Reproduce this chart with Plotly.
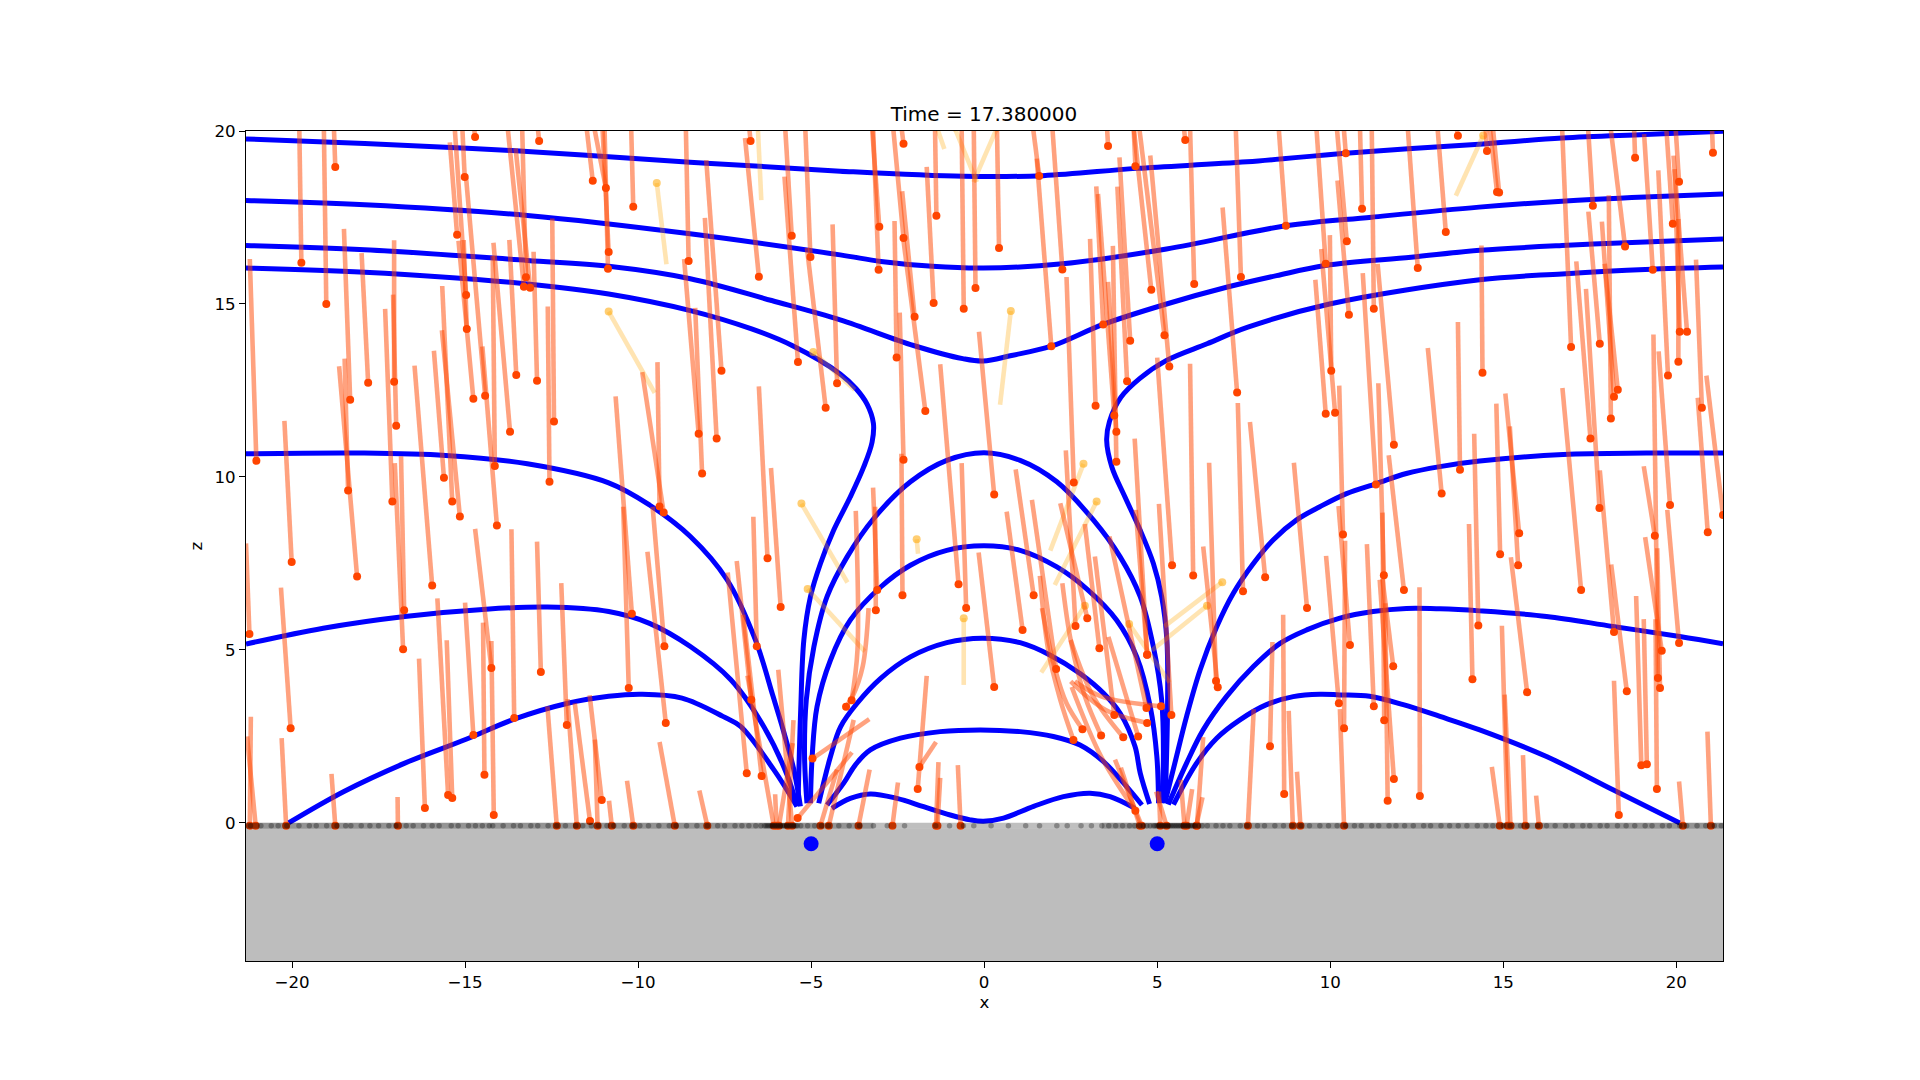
import plotly.graph_objects as go

# ---- particle trails: head = current position, tail = oldest position ----
ul_head_x = [-19.73,-19.01,-18.75,-21.03,-18.32,-17.80,-17.05,-16.99,-18.38,-18.12,-20.01,-17.10,-16.79,-16.76,-15.37,-15.61,-15.15,-15.95,-15.01,-15.23,-14.97,-14.95,-14.76,-14.42,-14.08,-14.71,-14.14,-13.70,-13.52,-12.92,-13.24,-13.30,-13.12,-12.86,-12.43,-12.56,-11.31,-10.93,-10.85,-10.87,-10.14,-8.54,-8.25,-8.15,-7.73,-7.59,-6.75,-6.51,-5.56,-5.02,-5.38,-4.58,-4.25,-9.26,-9.38,-10.18,-6.26,-5.88,-21.23]
ul_head_z = [16.19,15.0,18.96,10.47,12.23,12.72,12.75,11.48,9.61,7.12,7.54,9.29,5.02,6.15,9.29,9.98,8.86,6.86,18.67,17.0,15.26,14.28,12.26,12.35,8.60,19.83,10.32,11.31,12.95,12.78,15.77,15.50,15.47,19.71,11.60,9.86,18.56,18.35,16.50,16.02,17.81,16.24,11.25,10.10,11.11,13.07,19.71,15.79,16.97,16.36,13.32,12.0,12.71,8.97,9.15,6.05,7.65,6.24,5.46]
ul_tail_x = [-19.79,-19.08,-18.79,-21.22,-18.50,-17.99,-17.05,-17.08,-18.48,-18.64,-20.22,-17.31,-17.03,-16.85,-15.66,-15.90,-15.67,-16.46,-15.08,-15.44,-15.30,-15.04,-15.19,-14.97,-14.50,-14.76,-14.20,-14.18,-13.72,-13.02,-13.35,-13.77,-13.54,-12.90,-12.48,-12.61,-11.49,-11.27,-11.03,-10.97,-10.20,-8.62,-8.67,-8.35,-8.07,-8.03,-6.79,-6.91,-5.75,-5.17,-5.77,-5.12,-4.38,-9.88,-9.44,-10.65,-6.51,-6.16,-21.33]
ul_tail_z = [20.11,20.11,20.11,16.3,17.17,16.47,16.84,15.27,13.42,13.20,11.62,14.86,10.40,10.60,15.52,13.65,14.24,13.22,20.11,19.67,20.11,16.85,16.83,18.64,13.77,20.3,16.39,16.77,16.85,16.51,20.11,20.11,19.5,20.11,17.47,14.93,20.11,20.11,20.11,20.11,20.11,20.11,16.30,14.89,17.49,19.16,20.11,19.80,20.11,20.11,18.68,16.62,17.30,13.03,13.32,12.33,12.62,10.26,8.08]

ll_head_x = [-14.24,-14.44,-14.17,-13.58,-12.81,-12.06,-14.76,-15.49,-15.37,-16.16,-20.04,-20.17,-21.22,-21.05,-18.75,-16.94,-12.35,-11.77,-11.39,-11.05,-11.17,-10.76,-10.14,-8.94,-8.0,-10.27,-9.20,-9.24,-6.73,-6.57,-6.86,-6.43,-6.08,-5.67,-5.93,-6.0,-5.55,-5.39,-4.96,-4.73,-4.49,-3.63,-2.65,-1.39,-1.35,-0.68,-1.92,-1.87,0.29]
ll_head_z = [4.48,1.39,0.23,3.03,4.36,2.83,2.54,0.81,0.72,0.43,2.74,-0.08,-0.08,-0.08,-0.08,-0.08,-0.08,-0.08,0.06,0.66,-0.08,-0.08,-0.08,-0.08,-0.08,3.90,2.89,5.11,3.56,5.11,1.44,1.36,-0.08,-0.08,-0.08,-0.08,-0.08,0.14,1.86,-0.08,-0.08,-0.08,-0.08,-0.08,-0.08,-0.08,0.98,1.62,3.93]
ll_tail_x = [-14.71,-14.48,-14.24,-13.66,-12.92,-12.22,-15.0,-15.80,-15.53,-16.33,-20.32,-20.30,-21.19,-21.30,-18.86,-16.95,-12.62,-12.04,-11.83,-11.40,-11.25,-10.84,-10.32,-9.38,-8.23,-10.43,-9.73,-9.58,-7.15,-6.67,-7.41,-6.96,-6.84,-5.51,-5.53,-6.04,-5.95,-3.82,-3.32,-4.25,-3.77,-3.31,-2.49,-1.32,-1.27,-0.76,-1.66,-1.39,-0.16]
ll_tail_z = [8.50,5.79,5.26,8.49,8.13,6.93,6.37,6.49,5.28,4.75,6.80,2.45,3.07,2.50,1.42,0.75,3.37,3.58,3.46,3.69,2.41,0.64,1.22,2.34,0.94,9.14,7.84,9.14,7.57,8.85,7.24,6.02,4.26,2.97,2.31,0.83,4.43,2.04,3.0,1.54,2.98,1.54,1.17,1.76,1.30,1.67,4.25,2.34,7.82]

uc_head_x = [-3.03,-2.33,-2.33,-3.05,-1.38,-1.46,-2.01,-2.53,-1.70,-2.33,-0.59,-0.25,0.43,0.29,-0.74,-0.52,-2.36,-3.09,-3.13,1.43,1.11,2.59,2.64,3.22,4.22,4.13,3.44,3.76,3.82,3.82,1.94,1.59,2.26,3.58,4.37,4.83,5.21,5.35,5.81,6.07,7.42,7.31,8.72,9.87,10.45,10.48,10.54,10.03,9.87,10.14,10.92,11.26,11.84,11.32,12.53,13.34,13.69,13.75,13.22,14.40]
uc_head_z = [17.23,19.63,16.91,15.99,17.55,15.03,14.63,13.45,11.91,10.50,14.86,15.46,16.62,9.49,6.90,6.21,6.58,6.73,6.15,6.58,5.58,9.84,5.69,12.06,13.94,12.77,14.41,11.78,11.31,10.44,13.78,18.70,16.0,19.57,18.98,15.41,14.10,13.19,19.74,15.58,15.78,12.44,17.26,16.16,19.36,16.81,14.69,13.07,11.83,11.86,17.75,14.86,10.93,9.78,16.04,17.08,19.86,10.21,9.52,13.01]
uc_tail_x = [-3.24,-2.39,-2.63,-3.21,-1.42,-1.66,-2.37,-2.59,-2.33,-2.44,-0.65,-0.30,0.37,-0.15,-1.27,-0.65,-2.39,-3.21,-3.15,0.91,0.65,2.38,2.36,3.06,3.91,3.85,3.24,3.29,3.58,3.72,1.52,1.41,1.97,3.55,4.32,4.32,4.48,4.80,5.77,5.95,7.27,6.89,8.51,9.60,10.39,10.19,10.21,9.99,9.57,9.74,10.86,11.20,11.37,10.94,12.24,13.10,13.65,13.69,12.82,14.37]
uc_tail_z = [20.11,20.11,20.11,20.11,20.11,18.96,18.26,17.40,16.83,14.75,20.11,20.11,20.11,14.20,13.26,10.40,10.67,9.69,9.14,10.22,9.0,15.78,10.77,16.88,19.24,18.39,18.40,18.18,15.64,16.68,19.20,20.11,20.11,20.11,20.11,20.11,20.11,19.29,20.11,20.11,20.11,17.79,20.11,20.11,20.11,20.11,18.57,16.99,15.70,16.59,20.11,20.11,16.16,15.89,20.11,20.11,20.11,14.48,13.73,16.69]

lc_head_x = [5.43,6.04,4.71,7.48,8.12,6.70,6.75,9.33,10.37,11.55,12.13,14.28,10.40,10.57,10.25,8.67,8.26,11.26,11.56,11.82,11.84,11.66,12.59,14.11,7.62,8.92,9.14,10.40,6.15,6.13,5.85,5.79,5.27,5.09,4.55,4.50,5.41,4.69,4.45,2.08,2.98,3.33,3.76,4.71]
lc_head_z = [7.45,7.15,4.86,6.70,7.10,4.10,3.92,6.21,8.34,7.16,6.73,5.71,2.74,5.14,3.46,0.84,2.22,3.37,2.97,4.53,1.27,0.64,0.78,4.15,-0.08,-0.08,-0.08,-0.08,-0.08,-0.08,-0.08,-0.08,-0.08,-0.08,-0.08,-0.08,3.12,3.32,2.50,4.45,5.92,5.05,3.12,4.86]
lc_tail_x = [5.0,5.95,4.35,7.33,7.68,6.50,6.33,8.95,10.26,11.39,11.69,14.16,10.43,10.24,9.88,8.64,8.33,11.06,11.51,11.51,11.43,11.59,12.58,14.01,7.79,8.80,9.04,10.28,6.33,6.31,6.01,5.68,4.97,5.05,3.78,3.95,5.05,3.62,3.59,1.38,2.20,2.91,3.20,4.38]
lc_tail_z = [13.45,13.27,11.11,12.14,11.59,10.41,7.99,10.41,12.64,12.71,10.63,11.25,8.16,9.16,7.72,6.02,5.23,8.06,8.97,7.05,7.03,6.35,6.81,8.64,3.29,3.24,1.48,3.29,2.48,0.74,0.98,1.25,0.91,0.91,1.83,1.6,9.22,8.28,5.38,9.34,9.24,8.64,7.70,9.05]

r_head_x = [14.53,14.82,14.88,16.96,17.59,18.52,18.81,19.32,21.06,20.08,19.90,20.10,20.31,20.06,19.76,17.79,18.31,18.20,18.11,17.52,20.74,17.78,17.25,15.46,15.43,14.91,18.20,19.38,19.47,19.82,20.91,21.35,15.69,18.57,20.08,19.58,19.53,18.99,19.15,19.44,18.34,14.90,15.13,15.21,15.64,16.03,20.19,21.0]
r_head_z = [19.42,18.24,18.22,13.76,17.84,16.66,19.23,15.99,19.37,18.53,17.32,14.20,14.20,13.33,12.93,13.85,12.52,12.32,11.69,11.11,12.0,9.10,6.73,8.37,7.45,7.77,5.52,8.30,4.19,9.19,8.40,8.90,3.78,3.81,5.20,4.98,3.90,1.67,1.70,0.98,0.23,-0.08,-0.08,-0.08,-0.08,-0.08,-0.08,-0.08]
r_tail_x = [14.49,14.61,14.70,16.70,17.45,18.10,18.78,19.07,21.03,19.98,19.71,19.95,19.92,20.06,19.48,17.46,17.93,17.85,18.05,17.11,20.57,17.39,16.71,15.06,15.19,14.80,17.79,19.06,19.34,19.49,20.62,20.87,15.22,18.12,19.74,19.10,19.45,18.84,19.06,19.40,18.20,14.67,14.96,15.04,15.57,15.95,20.08,20.90]
r_tail_z = [20.11,20.11,20.11,20.11,20.11,20.11,20.11,19.91,20.11,20.11,20.11,18.90,19.29,17.46,18.86,17.67,16.16,17.38,18.14,16.23,16.28,15.44,12.57,12.41,11.46,12.12,10.19,10.31,14.12,13.63,12.29,12.93,7.68,7.47,9.05,8.26,7.94,6.56,5.89,5.89,4.11,1.62,5.70,3.71,1.96,0.79,1.20,2.64]

# curved trails (oldest point first, current position last)
curved_x = [[1.61,1.85,2.20,2.58],[1.67,2.03,2.38,2.84],[2.26,2.50,2.91,3.38],[2.50,3.15,4.02],[2.53,3.38,4.37],[2.62,3.38,5.11],[2.50,3.50,4.71],[-3.71,-3.66,-3.83],[-3.34,-3.51,-3.80,-3.99]]
curved_z = [[7.14,5.0,3.56,2.40],[6.21,4.52,3.46,2.71],[6.93,5.29,3.66,2.53],[5.29,3.66,2.48],[3.93,1.92,0.35],[4.09,3.66,3.37],[4.09,3.27,2.89],[9.02,5.0,3.55],[6.21,4.52,3.66,3.36]]

# pale (slow) particles
pale_head_x = [-9.46,-10.85,-6.54,-4.94,-0.59,-1.95,3.25,2.87,2.91,4.19,6.88,6.44,-5.28,-5.10,0.77,-1.4,-0.86,0.38,14.42]
pale_head_z = [18.50,14.78,20.11,13.61,5.92,8.20,9.29,10.38,6.28,5.75,6.96,6.28,9.23,6.76,14.80,20.2,20.11,20.11,19.87]
pale_tail_x = [-9.18,-9.52,-6.44,-3.74,-0.59,-1.91,2.04,1.91,1.65,5.36,5.21,4.85,-3.95,-3.45,0.46,-1.15,-0.21,-0.31,13.63]
pale_tail_z = [16.15,12.43,18.0,12.52,3.99,7.78,6.88,7.87,4.35,4.06,5.68,4.99,6.95,4.96,12.09,19.48,18.52,18.52,18.13]

# ---- magnetic field lines ----
t1_x = [-21.33,-17.9,-13.2,-8.5,-4.16,-0.6,1.7,4.4,7.6,10.45,14.3,16.7,19.1,21.35]
t1_z = [19.77,19.64,19.41,19.1,18.84,18.69,18.71,18.92,19.11,19.36,19.62,19.80,19.9,19.99]
t2_x = [-21.33,-17.9,-13.2,-8.5,-4.16,-2.98,-1.5,-0.03,2.26,5.27,8.72,11.2,14.3,16.7,19.1,21.35]
t2_z = [17.99,17.87,17.56,17.03,16.42,16.23,16.09,16.04,16.16,16.59,17.26,17.51,17.80,17.97,18.09,18.18]
t3_x = [-21.33,-17.9,-13.2,-10.85,-8.49,-6.14,-4.16,-2.04,-0.62,-0.03,0.79,1.94,3.44,5.27,7.03,8.45,9.86,12.34,14.32,16.7,19.1,21.35]
t3_z = [16.69,16.57,16.26,16.09,15.73,15.10,14.54,13.8,13.42,13.35,13.51,13.78,14.41,15.0,15.49,15.82,16.11,16.35,16.55,16.69,16.79,16.88]
t4l_x = [-21.33,-17.9,-13.2,-10.85,-8.49,-6.72,-5.55,-4.16,-3.7,-3.38,-3.2,-3.24,-3.48,-3.87,-4.35,-4.73,-5.02,-5.21,-5.3,-5.38]
t4l_z = [16.04,15.92,15.58,15.29,14.81,14.28,13.8,12.98,12.55,12.1,11.55,11.0,10.29,9.42,8.46,7.5,6.54,5.29,3.3,0.5]
t4r_x = [21.35,19.1,16.7,14.32,9.98,7.62,6.44,5.27,4.5,3.95,3.62,3.54,3.69,4.07,4.51,4.89,5.13,5.28,5.3,5.23]
t4r_z = [16.07,16.0,15.87,15.7,15.0,14.33,13.85,13.37,12.85,12.3,11.6,11.06,10.29,9.42,8.46,7.5,6.54,5.29,3.36,0.57]

l1l_x = [-21.33,-17.92,-15.56,-13.2,-10.85,-9.67,-8.49,-7.43,-6.61,-6.1,-5.84,-5.5,-5.31]
l1l_z = [10.67,10.69,10.62,10.38,9.83,9.19,8.28,7.03,5.29,3.66,2.8,1.54,0.48]
l1r_x = [21.35,19.13,16.73,14.32,13.17,12.2,11.34,10.47,9.70,9.03,8.35,7.78,7.2,6.72,6.24,5.85,5.51,5.22]
l1r_z = [10.69,10.69,10.65,10.46,10.30,10.10,9.81,9.52,9.14,8.76,8.18,7.5,6.64,5.67,4.42,3.08,1.73,0.57]
l2l_x = [-21.33,-19.1,-16.74,-14.39,-12.62,-10.85,-9.67,-8.49,-7.32,-6.37,-5.68,-5.41]
l2l_z = [5.17,5.63,5.97,6.18,6.24,6.11,5.77,5.10,4.14,2.79,1.35,0.48]
l2r_x = [21.35,20.1,18.17,16.25,14.32,13.17,12.2,11.24,10.28,9.32,8.55,7.78,7.0,6.33,5.85,5.32]
l2r_z = [5.18,5.39,5.68,5.97,6.13,6.19,6.2,6.11,5.92,5.58,5.19,4.52,3.65,2.69,1.73,0.53]
l3l_x = [-20.1,-18.5,-16.74,-14.97,-13.58,-12.03,-10.85,-9.91,-8.73,-7.55,-7.04,-6.08,-5.41]
l3l_z = [0.0,0.91,1.73,2.42,3.0,3.46,3.66,3.72,3.61,3.08,2.79,1.54,0.48]
l3r_x = [20.1,18.17,16.25,14.32,13.17,12.11,11.14,10.28,9.70,8.93,8.16,7.39,6.72,6.14,5.47]
l3r_z = [0.0,0.96,1.92,2.69,3.08,3.42,3.66,3.70,3.72,3.65,3.42,2.98,2.45,1.73,0.53]

a1_x = [-5.12,-5.19,-5.14,-4.92,-4.54,-3.96,-3.19,-2.13,-1.08,0,1.04,2.10,3.16,3.93,4.51,4.89,5.13,5.18,5.13]
a1_z = [0.57,1.92,3.55,5.09,6.54,7.69,8.80,9.86,10.48,10.70,10.48,9.86,8.75,7.69,6.54,5.09,3.55,1.92,0.57]
a2_x = [-5.02,-4.97,-4.83,-4.44,-3.87,-2.99,-2.13,-1.08,0,1.04,2.10,2.97,3.83,4.41,4.80,4.99,5.04]
a2_z = [0.57,1.92,3.36,4.71,5.86,6.82,7.45,7.88,8.01,7.88,7.40,6.76,5.86,4.80,3.36,1.92,0.57]
a3_x = [-4.78,-4.44,-4.15,-3.67,-2.99,-2.13,-1.08,-0.06,1.04,1.91,2.77,3.45,3.93,4.36,4.51,4.78]
a3_z = [0.57,1.92,2.78,3.46,4.18,4.80,5.21,5.34,5.21,4.85,4.32,3.75,3.17,2.21,1.44,0.55]
a4_x = [-4.54,-4.06,-3.72,-3.29,-2.42,-1.27,-0.11,1.04,2.0,2.77,3.45,4.03,4.56]
a4_z = [0.52,1.15,1.68,2.11,2.45,2.64,2.69,2.64,2.5,2.25,1.77,1.15,0.52]
a5_x = [-4.40,-3.87,-3.29,-2.52,-1.75,-0.98,-0.4,-0.02,0.56,1.43,2.29,3.06,3.64,4.36]
a5_z = [0.42,0.71,0.84,0.71,0.47,0.23,0.09,0.05,0.14,0.48,0.76,0.86,0.76,0.42]

# ---- particles sitting on the wall (z = 0 row) and the two sources ----
wall_x = [-21.2,-20.9,-20.6,-20.4,-20.15,-19.8,-19.5,-19.3,-19.0,-18.7,-18.45,-18.3,-18.0,-17.75,-17.5,-17.2,-17.0,-16.7,-16.5,-16.2,-15.95,-15.75,-15.4,-15.2,-14.9,-14.7,-14.5,-14.3,-14.2,-13.9,-13.6,-13.4,-13.1,-12.9,-12.6,-12.35,-12.1,-11.8,-11.6,-11.35,-11.15,-10.9,-10.7,-10.4,-10.15,-9.95,-9.7,-9.4,-9.1,-8.9,-8.6,-8.3,-8.0,-7.7,-7.5,-7.2,-7.0,-6.8,-6.6,-6.45,-6.35,-6.3,-6.25,-6.2,-6.15,-6.1,-6.05,-6.0,-5.95,-5.9,-5.85,-5.8,-5.75,-5.7,-5.65,-5.6,-5.55,-5.5,-5.45,-5.4,-5.3,-5.1,-4.9,-4.7,-4.5,-4.2,-3.9,-3.6,-3.2,-2.8,-2.3,-1.4,-1.0,-0.6,-0.3,0.2,0.7,1.2,1.6,2.1,2.4,2.8,3.1,3.4,3.6,3.8,4.0,4.2,4.35,4.5,4.6,4.7,4.8,4.9,4.95,5.0,5.05,5.1,5.15,5.2,5.25,5.3,5.35,5.4,5.45,5.5,5.55,5.6,5.65,5.7,5.75,5.8,5.85,5.9,5.95,6.0,6.05,6.1,6.2,6.3,6.45,6.7,6.9,7.1,7.4,7.6,7.9,8.1,8.4,8.65,8.9,9.15,9.4,9.7,9.95,10.2,10.45,10.7,10.9,11.2,11.4,11.7,11.9,12.15,12.4,12.7,12.9,13.2,13.45,13.7,13.95,14.25,14.5,14.7,15.0,15.2,15.5,15.7,16.0,16.25,16.5,16.8,17.0,17.3,17.5,17.8,18.0,18.3,18.55,18.8,19.1,19.3,19.6,19.8,20.1,20.3,20.6,20.85,21.1,21.3]
band_outer_x = [-21.33,-3.2,None,3.4,21.35]
band_outer_z = [-0.08,-0.08,None,-0.08,-0.08]
band_center_x = [-3.2,3.4]
band_center_z = [-0.08,-0.08]
source_x = [-5.0,5.0]
source_z = [-0.6,-0.6]
ground_x = [-21.33,21.35,21.35,-21.33]
ground_z = [-0.17,-0.17,-4.0,-4.0]

x_ticks = [-20,-15,-10,-5,0,5,10,15,20]
z_ticks = [0,5,10,15,20]
title_text = "Time = 17.380000"

FONT = "DejaVu Sans"
TRAIL = "rgba(255,69,0,0.5)"
PALE = "rgba(255,165,0,0.3)"
BLUE = "#0000ff"
fig = go.Figure()

# ground
fig.add_trace(go.Scatter(x=ground_x, y=ground_z, mode="lines", fill="toself",
                         fillcolor="#bdbdbd", line=dict(width=0), hoverinfo="skip"))
# field lines
for lx, lz in [(t1_x,t1_z),(t2_x,t2_z),(t3_x,t3_z),(t4l_x,t4l_z),(t4r_x,t4r_z),(l1l_x,l1l_z),(l1r_x,l1r_z),
               (l2l_x,l2l_z),(l2r_x,l2r_z),(l3l_x,l3l_z),(l3r_x,l3r_z),(a1_x,a1_z),(a2_x,a2_z),(a3_x,a3_z),(a4_x,a4_z),(a5_x,a5_z)]:
    fig.add_trace(go.Scatter(x=lx, y=lz, mode="lines", hoverinfo="skip",
                             line=dict(color=BLUE, width=5, shape="spline", smoothing=1.0)))

# pale trails
for hx, hz, tx, tz in zip(pale_head_x, pale_head_z, pale_tail_x, pale_tail_z, strict=True):
    fig.add_trace(go.Scatter(x=[tx,hx], y=[tz,hz], mode="lines", hoverinfo="skip", line=dict(color=PALE, width=4.6)))
fig.add_trace(go.Scatter(x=pale_head_x, y=pale_head_z, mode="markers", hoverinfo="skip",
                         marker=dict(color="rgba(255,165,0,0.55)", size=8, line=dict(width=0))))

# straight trails
groups = [(ul_head_x,ul_head_z,ul_tail_x,ul_tail_z),(ll_head_x,ll_head_z,ll_tail_x,ll_tail_z),
          (uc_head_x,uc_head_z,uc_tail_x,uc_tail_z),(lc_head_x,lc_head_z,lc_tail_x,lc_tail_z),
          (r_head_x,r_head_z,r_tail_x,r_tail_z)]
heads_x, heads_z = [], []
for g in groups:
    for hx, hz, tx, tz in zip(*g, strict=True):
        fig.add_trace(go.Scatter(x=[tx,hx], y=[tz,hz], mode="lines", hoverinfo="skip", line=dict(color=TRAIL, width=4.6)))
        heads_x.append(hx); heads_z.append(hz)
for cx, cz in zip(curved_x, curved_z, strict=True):
    fig.add_trace(go.Scatter(x=cx, y=cz, mode="lines", hoverinfo="skip", line=dict(color=TRAIL, width=4.6, shape="spline")))
    heads_x.append(cx[-1]); heads_z.append(cz[-1])
fig.add_trace(go.Scatter(x=heads_x, y=heads_z, mode="markers", hoverinfo="skip",
                         marker=dict(color="#ff4500", size=8, line=dict(width=0))))

# wall row
fig.add_trace(go.Scatter(x=band_outer_x, y=band_outer_z, mode="lines", hoverinfo="skip",
                         line=dict(color="rgba(0,0,0,0.42)", width=6)))
fig.add_trace(go.Scatter(x=band_center_x, y=band_center_z, mode="lines", hoverinfo="skip",
                         line=dict(color="rgba(0,0,0,0.25)", width=6)))
fig.add_trace(go.Scatter(x=wall_x, y=[-0.08]*len(wall_x), mode="markers", hoverinfo="skip",
                         marker=dict(color="rgba(0,0,0,0.3)", size=5.5, line=dict(width=0))))
# sources
fig.add_trace(go.Scatter(x=source_x, y=source_z, mode="markers", hoverinfo="skip",
                         marker=dict(color=BLUE, size=15, line=dict(width=0))))

axis = dict(showgrid=False, zeroline=False, showline=True, mirror=True, linecolor="black", linewidth=1.33,
            ticks="outside", ticklen=5.8, tickwidth=1.33, tickcolor="black",
            tickfont=dict(family=FONT, size=16.67, color="black"))
fig.update_layout(
    width=1920, height=1080, showlegend=False, paper_bgcolor="white", plot_bgcolor="white",
    margin=dict(l=246, r=197, t=131, b=119.3, autoexpand=False),
    title=dict(text=title_text, x=984/1920, xanchor="center", y=1-114/1080, yanchor="middle",
               font=dict(family=FONT, size=20, color="black")),
    xaxis=dict(axis, range=[-21.33,21.35], tickvals=x_ticks, title=dict(text="x", font=dict(family=FONT, size=16.67, color="black"), standoff=5)),
    yaxis=dict(axis, range=[-3.99,20], tickvals=z_ticks, title=dict(text="z", font=dict(family=FONT, size=16.67, color="black"), standoff=7)),
)
fig.write_html("out.html", config=dict(displayModeBar=False), post_script="document.body.style.margin='0';")
